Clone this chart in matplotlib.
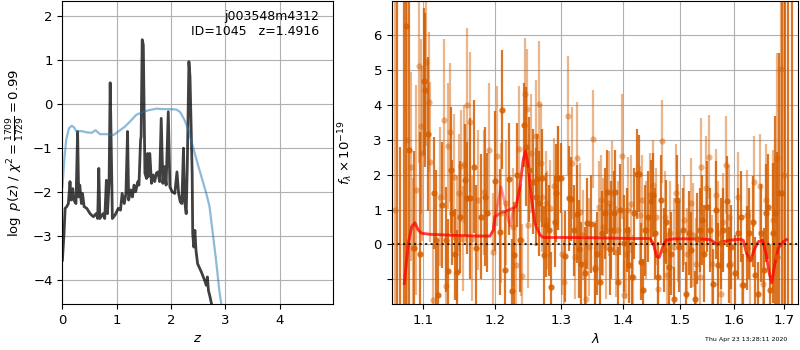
import matplotlib
matplotlib.use('Agg')
import matplotlib.pyplot as plt

# ---- p(z) panel ----
zgrid = [0.00, 0.03, 0.05, 0.08, 0.11, 0.14, 0.16, 0.19, 0.21, 0.25, 0.28, 0.30,
         0.32, 0.35, 0.37, 0.40, 0.45, 0.51, 0.57, 0.62, 0.65, 0.67, 0.69, 0.75,
         0.78, 0.81, 0.83, 0.86, 0.88, 0.91, 0.92, 0.97, 1.03, 1.07, 1.10, 1.14,
         1.17, 1.20, 1.22, 1.26, 1.29, 1.32, 1.35, 1.39, 1.41, 1.44, 1.45, 1.47,
         1.49, 1.52, 1.55, 1.57, 1.58, 1.61, 1.64, 1.67, 1.70, 1.73, 1.76, 1.79,
         1.82, 1.85, 1.88, 1.91, 1.95, 1.98, 2.02, 2.07, 2.11, 2.14, 2.17, 2.20,
         2.23, 2.25, 2.28, 2.30, 2.33, 2.35, 2.39, 2.40, 2.42, 2.44, 2.46, 2.49,
         2.56, 2.62, 2.65, 2.67, 2.69, 2.72, 2.76, 2.85]
logpz = [-3.55, -2.94, -2.37, -2.33, -2.26, -1.76, -2.18, -1.92, -2.18, -2.26, -0.62, -2.11,
         -1.84, -2.26, -2.03, -2.33, -2.37, -2.49, -2.56, -2.49, -2.60, -1.46, -2.60, -2.49,
         -2.60, -1.73, -2.49, -1.76, 0.49, -1.76, -2.60, -2.52, -2.37, -2.41, -2.03, -2.26,
         -2.03, -0.62, -2.18, -1.95, -2.11, -1.84, -1.99, -1.76, -1.84, -0.81, -0.74, 1.47,
         1.35, -1.57, -1.69, -1.12, -1.65, -1.12, -1.80, -1.61, -1.76, -1.57, -1.54, -1.76,
         -0.32, -1.80, -1.42, -1.84, -0.17, -1.88, -1.99, -2.03, -1.54, -2.03, -2.22, -2.26,
         -1.00, -2.18, -2.49, -1.42, 0.97, 0.63, -1.57, -2.94, -3.25, -2.87, -3.32, -3.63,
         -3.82, -4.01, -4.12, -3.93, -4.24, -4.39, -4.62, -5.30]

prior_z = [0.00, 0.04, 0.07, 0.12, 0.17, 0.21, 0.26, 0.35, 0.45, 0.54, 0.61, 0.69,
           0.81, 0.94, 1.03, 1.15, 1.24, 1.36, 1.49, 1.61, 1.73, 1.85, 1.98, 2.10,
           2.17, 2.25, 2.31, 2.37, 2.49, 2.65, 2.71, 2.77, 2.83, 2.89, 2.95]
prior_logp = [-1.88, -1.19, -0.81, -0.55, -0.49, -0.52, -0.62, -0.61, -0.64, -0.65, -0.59, -0.68,
              -0.68, -0.70, -0.62, -0.51, -0.40, -0.24, -0.17, -0.13, -0.10, -0.11, -0.11, -0.12,
              -0.18, -0.36, -0.55, -0.81, -1.35, -2.03, -2.33, -2.94, -3.55, -4.24, -4.75]

# ---- spectrum panel, first orientation (dark) ----
wave_a = [1.0664, 1.0708, 1.0752, 1.0775, 1.0814, 1.0885, 1.0960, 1.1019, 1.1037, 1.1074,
          1.1153, 1.1181, 1.1200, 1.1260, 1.1307, 1.1344, 1.1386, 1.1400, 1.1437, 1.1470,
          1.1502, 1.1577, 1.1600, 1.1647, 1.1702, 1.1735, 1.1795, 1.1851, 1.1888, 1.1995,
          1.2070, 1.2109, 1.2149, 1.2199, 1.2244, 1.2284, 1.2318, 1.2368, 1.2433, 1.2458,
          1.2507, 1.2567, 1.2607, 1.2632, 1.2657, 1.2697, 1.2731, 1.2766, 1.2806, 1.2841,
          1.2896, 1.2920, 1.2955, 1.2990, 1.3059, 1.3124, 1.3156, 1.3194, 1.3247, 1.3285,
          1.3317, 1.3371, 1.3409, 1.3479, 1.3533, 1.3570, 1.3618, 1.3656, 1.3699, 1.3737,
          1.3780, 1.3806, 1.3844, 1.3871, 1.3914, 1.3957, 1.4023, 1.4070, 1.4111, 1.4152,
          1.4198, 1.4239, 1.4268, 1.4303, 1.4344, 1.4385, 1.4431, 1.4478, 1.4519, 1.4560,
          1.4606, 1.4665, 1.4705, 1.4752, 1.4799, 1.4840, 1.4898, 1.4939, 1.4985, 1.5047,
          1.5109, 1.5153, 1.5202, 1.5265, 1.5315, 1.5358, 1.5396, 1.5439, 1.5502, 1.5551,
          1.5614, 1.5664, 1.5707, 1.5757, 1.5801, 1.5875, 1.5913, 1.5956, 1.6020, 1.6087,
          1.6140, 1.6187, 1.6253, 1.6307, 1.6387, 1.6420, 1.6467, 1.6534, 1.6587, 1.6627,
          1.6674, 1.6720, 1.6774, 1.6820, 1.6867, 1.6907, 1.6953, 1.7020, 1.7075, 1.7156]
flux_a = [-3.00, -2.50, 9.00, 6.25, 2.71, -0.11, -0.28, 4.67, 4.42, 3.17,
          1.47, 0.14, -1.45, 1.13, 0.14, -0.77, 2.14, 0.91, -0.28, -0.79,
          0.78, 1.85, 1.32, 1.32, 2.23, -0.11, 0.80, 1.37, 0.91, 1.82,
          0.36, 3.86, -0.74, 1.87, -1.34, -0.29, 1.99, 0.14, 3.43, 2.80,
          2.14, 1.80, 1.35, 1.87, 1.18, 1.90, -0.31, 0.56, 0.41, -1.22,
          0.65, 1.47, 1.90, 1.90, -0.34, 1.32, 1.29, 0.41, 0.87, -0.14,
          -0.55, -0.81, 0.60, 0.58, -0.69, -0.26, -1.07, 0.32, 0.89, 1.51,
          -0.14, 0.41, 0.89, 1.51, -1.07, 0.99, 0.03, 0.41, -0.59, -0.93,
          0.89, 2.02, 2.02, -0.50, -1.31, 0.41, 0.80, 1.23, 1.42, 0.32,
          -0.93, 1.27, -0.16, 0.65, -0.64, -0.26, -1.55, 1.27, -0.07, 0.41,
          -1.41, 0.32, -0.16, -1.55, 0.17, 0.41, 0.70, -0.26, 1.08, 0.41,
          -1.12, 0.99, -0.59, 0.03, 0.41, 1.23, -0.59, -0.07, -0.83, 0.32,
          0.80, -1.17, -0.11, 0.32, 0.65, -0.88, -1.41, 0.32, -0.74, 0.89,
          1.08, -1.31, 0.32, 0.89, -0.35, 1.47, 1.48, 8.00, 8.50, 7.50]
err_a = [10.0, 5.3, 11.0, 8.0, 4.5, 2.8, 3.5, 2.1, 2.2, 2.2,
         1.6, 2.0, 1.5, 1.8, 1.5, 1.5, 1.8, 1.5, 1.3, 1.2,
         1.6, 1.6, 1.6, 2.3, 1.9, 1.8, 1.8, 2.0, 1.7, 2.0,
         1.8, 1.7, 1.7, 1.6, 1.5, 1.5, 1.5, 1.5, 1.2, 1.7,
         1.5, 1.5, 1.4, 1.3, 1.5, 1.4, 1.4, 1.5, 1.3, 1.0,
         1.3, 1.4, 1.5, 1.0, 1.3, 1.5, 1.2, 1.3, 1.4, 1.4,
         1.2, 1.3, 1.3, 1.4, 1.3, 1.2, 1.1, 1.2, 1.3, 1.2,
         1.3, 1.4, 1.2, 1.2, 1.0, 1.3, 1.4, 1.2, 1.1, 1.0,
         1.3, 1.3, 1.1, 1.1, 0.9, 1.3, 1.3, 1.2, 1.2, 1.3,
         1.0, 1.3, 1.2, 1.2, 1.1, 1.2, 0.9, 1.3, 1.3, 1.2,
         0.9, 1.2, 1.1, 0.8, 1.3, 1.2, 1.3, 1.4, 1.3, 1.2,
         1.0, 1.4, 1.2, 1.3, 1.2, 1.3, 1.1, 1.2, 1.1, 1.3,
         1.3, 0.9, 1.2, 1.3, 1.3, 1.1, 0.9, 1.4, 1.2, 1.4,
         1.5, 1.3, 2.0, 2.8, 3.0, 4.0, 5.5, 10.0, 11.0, 9.5]

# ---- second orientation (light) ----
wave_b = [1.0640, 1.0795, 1.0841, 1.0872, 1.0907, 1.0947, 1.0982, 1.0996, 1.1051, 1.1084,
          1.1098, 1.1144, 1.1237, 1.1284, 1.1316, 1.1340, 1.1367, 1.1423, 1.1460, 1.1493,
          1.1526, 1.1549, 1.1563, 1.1609, 1.1642, 1.1670, 1.1763, 1.1842, 1.1912, 1.1967,
          1.2028, 1.2085, 1.2165, 1.2265, 1.2310, 1.2348, 1.2383, 1.2398, 1.2438, 1.2473,
          1.2483, 1.2532, 1.2617, 1.2652, 1.2682, 1.2706, 1.2756, 1.2781, 1.2831, 1.2881,
          1.2945, 1.3005, 1.3048, 1.3113, 1.3167, 1.3210, 1.3252, 1.3290, 1.3339, 1.3393,
          1.3436, 1.3511, 1.3543, 1.3597, 1.3634, 1.3672, 1.3726, 1.3763, 1.3812, 1.3887,
          1.3925, 1.3978, 1.4012, 1.4052, 1.4093, 1.4140, 1.4169, 1.4286, 1.4326, 1.4402,
          1.4461, 1.4524, 1.4577, 1.4612, 1.4670, 1.4723, 1.4764, 1.4811, 1.4886, 1.4927,
          1.4968, 1.5065, 1.5128, 1.5190, 1.5234, 1.5296, 1.5364, 1.5377, 1.5477, 1.5539,
          1.5583, 1.5664, 1.5707, 1.5751, 1.5801, 1.5851, 1.5913, 1.5956, 1.6087, 1.6153,
          1.6267, 1.6320, 1.6400, 1.6507, 1.6574, 1.6640, 1.6774, 1.6867, 1.6947, 1.7000]
flux_b = [1.00, 3.00, 2.23, -0.11, 1.56, 5.12, 3.38, 2.61, 5.22, 4.07,
          2.36, -1.60, 1.37, 3.57, -1.20, 2.81, 3.21, 1.94, 0.15, 1.47,
          2.25, 0.17, 2.30, 4.00, 3.50, 0.17, 1.27, 1.49, 2.71, -0.23,
          2.54, 0.90, 1.20, 0.50, -0.60, 2.74, 0.12, -0.91, 4.32, 3.89,
          0.56, 2.61, 3.11, 4.02, 2.33, 1.37, 1.18, 0.70, 1.03, 1.66,
          1.90, -0.26, -1.07, 3.69, 2.33, -0.35, 2.47, 0.94, 0.27, -1.55,
          -0.07, 3.02, -0.64, 1.08, 1.27, 0.51, -0.07, 1.18, 1.47, -0.21,
          0.41, 2.52, -1.46, -0.26, 0.99, 1.16, -0.93, 0.84, 1.27, 0.41,
          1.42, 1.70, 0.80, -1.29, 2.95, 0.80, -0.88, 0.32, -0.07, 1.47,
          0.32, 0.70, -0.26, 1.18, 0.27, -0.55, -0.93, 2.23, 1.61, 2.50,
          -0.55, 1.42, 0.32, -1.41, 0.65, 2.28, 0.78, -0.55, 1.35, -1.17,
          0.84, -0.40, 1.80, 1.66, -1.12, 1.27, 0.70, 2.47, 5.01, 2.00]
err_b = [6.0, 5.0, 2.7, 2.0, 3.0, 2.8, 2.5, 2.5, 2.4, 2.0,
         2.3, 1.6, 2.0, 2.3, 1.3, 1.8, 2.0, 1.8, 1.8, 1.7,
         1.6, 1.5, 1.7, 2.2, 2.0, 1.8, 2.0, 1.8, 1.9, 1.7,
         2.0, 2.0, 1.8, 1.7, 1.6, 1.8, 1.6, 1.5, 1.6, 1.7,
         1.8, 1.7, 1.6, 1.8, 1.7, 1.6, 1.5, 1.4, 1.4, 1.4,
         1.5, 1.2, 1.2, 1.7, 1.6, 1.2, 1.6, 1.4, 1.3, 1.1,
         1.4, 1.4, 1.3, 1.3, 1.3, 1.4, 1.5, 1.5, 1.5, 1.3,
         1.4, 1.8, 1.0, 1.3, 1.5, 1.4, 1.2, 1.4, 1.3, 1.4,
         1.2, 1.3, 1.4, 1.0, 1.2, 1.3, 1.2, 1.5, 1.4, 1.4,
         1.4, 1.3, 1.3, 1.3, 1.5, 1.3, 1.4, 1.4, 1.5, 1.2,
         1.4, 1.3, 1.5, 1.2, 1.4, 1.4, 1.5, 1.3, 1.3, 1.2,
         1.3, 1.4, 1.3, 1.5, 1.4, 1.6, 2.0, 3.0, 5.0, 7.0]

# best-fit models for the two orientations
model_wave_a = [1.0759, 1.0811, 1.0855, 1.0898, 1.0942, 1.0987, 1.1097, 1.1323, 1.1552, 1.1786,
                1.1929, 1.1977, 1.2001, 1.2074, 1.2195, 1.2309, 1.2368, 1.2417, 1.2453, 1.2492,
                1.2544, 1.2594, 1.2670, 1.2720, 1.3031, 1.3565, 1.4121, 1.4466, 1.4523, 1.4583,
                1.4629, 1.4689, 1.4747, 1.4877, 1.5303, 1.5550, 1.5612, 1.5687, 1.5771, 1.5929,
                1.6122, 1.6186, 1.6253, 1.6331, 1.6397, 1.6482, 1.6569, 1.6635, 1.6702, 1.6750,
                1.6817, 1.6884, 1.6986, 1.7056]
model_flux_a = [-1.12, 0.03, 0.51, 0.62, 0.41, 0.32, 0.29, 0.27, 0.25, 0.24,
                0.24, 0.41, 0.79, 0.89, 0.98, 1.08, 1.65, 2.42, 2.70, 2.23,
                1.27, 0.60, 0.27, 0.20, 0.20, 0.19, 0.17, 0.17, 0.03, -0.35,
                -0.37, -0.07, 0.12, 0.16, 0.16, 0.14, 0.08, 0.00, 0.07, 0.12,
                0.15, 0.12, -0.26, -0.47, -0.16, 0.08, 0.12, -0.26, -0.83, -1.10,
                -0.54, -0.11, 0.08, 0.14]
model_wave_b = [1.0759, 1.0811, 1.0855, 1.0898, 1.0942, 1.0987, 1.1097, 1.1323, 1.1552, 1.1786,
                1.1929, 1.1977, 1.2001, 1.2045, 1.2088, 1.2136, 1.2195, 1.2228, 1.2257, 1.2285,
                1.2309, 1.2368, 1.2417, 1.2453, 1.2492, 1.2544, 1.2594, 1.2670, 1.2720, 1.3031,
                1.3565, 1.4121, 1.4466, 1.4523, 1.4583, 1.4629, 1.4689, 1.4747, 1.4877, 1.5303,
                1.5550, 1.5612, 1.5687, 1.5771, 1.5929, 1.6122, 1.6186, 1.6253, 1.6331, 1.6397,
                1.6482, 1.6569, 1.6635, 1.6702, 1.6750, 1.6817, 1.6884, 1.6986, 1.7056]
model_flux_b = [-1.12, 0.03, 0.51, 0.62, 0.41, 0.32, 0.29, 0.27, 0.25, 0.24,
                0.24, 0.41, 0.79, 1.20, 1.65, 1.27, 0.70, 0.53, 0.89, 1.03,
                1.08, 1.65, 2.42, 2.70, 2.23, 1.27, 0.60, 0.27, 0.20, 0.20,
                0.19, 0.17, 0.17, 0.03, -0.35, -0.37, -0.07, 0.12, 0.16, 0.16,
                0.14, 0.08, 0.00, 0.07, 0.12, 0.15, 0.12, -0.26, -0.47, -0.16,
                0.08, 0.12, -0.26, -0.83, -1.10, -0.54, -0.11, 0.08, 0.14]

wave_ticks = [1.1, 1.2, 1.3, 1.4, 1.5, 1.6, 1.7]
wave_labels = ['1.1', '1.2', '1.3', '1.4', '1.5', '1.6', '1.7']
flux_ticks = [-1, 0, 1, 2, 3, 4, 5, 6]
flux_labels = ['', '0', '1', '2', '3', '4', '5', '6']

grism_color = '#d55e00'

plt.rcParams['font.size'] = 9.5

fig = plt.figure(figsize=(8, 3.5), dpi=100)

# p(z)
ax = fig.add_axes([0.078, 0.131, 0.338, 0.866])
ax.plot(zgrid, logpz, color='k', alpha=0.75, lw=2)
ax.plot(prior_z, prior_logp, color='#1f77b4', alpha=0.5, lw=1.6)
ax.set_xlim(0, 4.98)
ax.set_ylim(-4.55, 2.35)
ax.set_xticks([0, 1, 2, 3, 4])
ax.set_yticks([-4, -3, -2, -1, 0, 1, 2])
ax.grid(True)
ax.set_xlabel('$z$')
ax.set_ylabel(r'$\log\ p(z)$ / $\chi^2=\frac{1709}{1729}=0.99$')
ax.text(0.95, 0.97, 'j003548m4312\nID=1045   z=1.4916', ha='right', va='top',
        transform=ax.transAxes, fontsize=9)

# spectrum
bx = fig.add_axes([0.4896, 0.131, 0.5085, 0.866])
bx.errorbar(wave_b, flux_b, yerr=err_b, fmt='o', color=grism_color, alpha=0.45,
            ms=4.5, mew=0, elinewidth=1.6, capsize=0)
bx.errorbar(wave_a, flux_a, yerr=err_a, fmt='o', color=grism_color, alpha=0.85,
            ms=4.5, mew=0, elinewidth=1.6, capsize=0)
bx.plot(model_wave_b, model_flux_b, color='r', alpha=0.4, lw=2)
bx.plot(model_wave_a, model_flux_a, color='r', alpha=0.6, lw=2)
bx.axhline(0, color='k', ls=':', lw=1.5, alpha=0.8)

bx.set_xscale('log')
bx.set_xlim(1.0597, 1.730)
bx.set_ylim(-1.71, 6.97)
bx.set_xticks(wave_ticks, labels=wave_labels)
bx.minorticks_off()
bx.set_yticks(flux_ticks, labels=flux_labels)
bx.grid(True)
bx.set_xlabel(r'$\lambda$')
bx.set_ylabel(r'$f_\lambda \times 10^{-19}$', labelpad=13)

fig.text(0.984, 0.029, 'Thu Apr 23 13:28:11 2020', ha='right', va='center', fontsize=4.5)

fig.savefig('out.png', dpi=100)
